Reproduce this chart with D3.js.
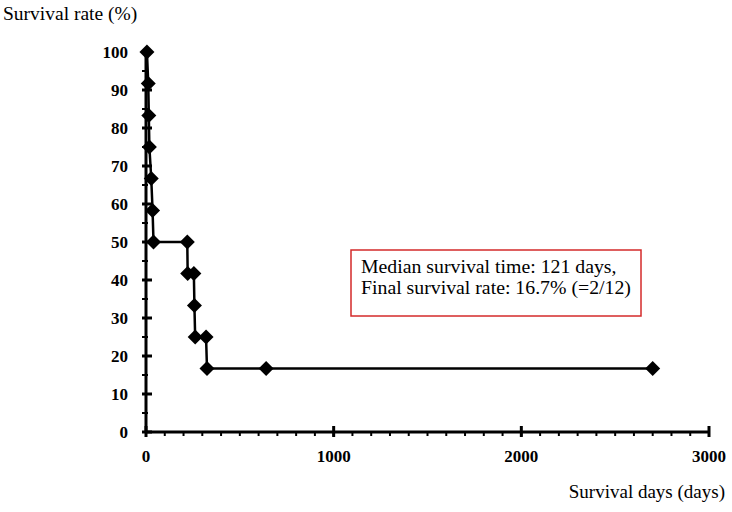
<!DOCTYPE html>
<html><head><meta charset="utf-8">
<script src="https://cdn.jsdelivr.net/npm/d3@7"></script>
<style>body{margin:0;background:#fff}svg{display:block}</style>
</head><body>
<svg id="c" width="732" height="512"></svg>
<script>
const days  = [5, 12, 15, 18, 28, 35, 40, 220, 222, 255, 258, 262, 320, 325, 640, 2700];
const rates = [100, 91.7, 83.3, 75, 66.7, 58.3, 50, 50, 41.7, 41.7, 33.3, 25, 25, 16.7, 16.7, 16.7];
const xTicks = [0, 1000, 2000, 3000];
const yTicks = [0, 10, 20, 30, 40, 50, 60, 70, 80, 90, 100];
const legendLines = ["Median survival time: 121 days,", "Final survival rate: 16.7% (=2/12)"];
const yTitle = "Survival rate (%)";
const xTitle = "Survival days (days)";

const svg = d3.select("#c");
const x = d3.scaleLinear().domain([0, 3000]).range([146, 709]);
const y = d3.scaleLinear().domain([0, 100]).range([432, 52]);
const font = "'Liberation Serif','Times New Roman',serif";

const g = svg.append("g");
g.selectAll("line.xm").data(d3.range(0, 3001, 100)).join("line")
  .attr("x1", d => x(d)).attr("x2", d => x(d)).attr("y1", y(0)).attr("y2", y(0) + 4)
  .attr("stroke", "#000").attr("stroke-width", 2);
g.selectAll("line.xM").data(xTicks).join("line")
  .attr("x1", d => x(d)).attr("x2", d => x(d)).attr("y1", y(0) - 6).attr("y2", y(0) + 5)
  .attr("stroke", "#000").attr("stroke-width", 3);
g.selectAll("line.ym").data(d3.range(5, 100, 10)).join("line")
  .attr("x1", x(0) - 4).attr("x2", x(0) + 2).attr("y1", d => y(d)).attr("y2", d => y(d))
  .attr("stroke", "#000").attr("stroke-width", 2);
g.selectAll("line.yM").data(yTicks).join("line")
  .attr("x1", x(0) - 4).attr("x2", x(0) + 6).attr("y1", d => y(d)).attr("y2", d => y(d))
  .attr("stroke", "#000").attr("stroke-width", 3);

g.append("line").attr("x1", x(0)).attr("x2", x(3000)).attr("y1", y(0)).attr("y2", y(0))
  .attr("stroke", "#000").attr("stroke-width", 3);
g.append("line").attr("x1", x(0)).attr("x2", x(0)).attr("y1", y(0)).attr("y2", y(100))
  .attr("stroke", "#000").attr("stroke-width", 3);

g.selectAll("text.xl").data(xTicks).join("text")
  .attr("x", d => x(d)).attr("y", y(0) + 30).attr("text-anchor", "middle")
  .attr("font-family", font).attr("font-weight", "bold").attr("font-size", 17).text(d => d);
g.selectAll("text.yl").data(yTicks).join("text")
  .attr("x", 128).attr("y", d => y(d) + 6).attr("text-anchor", "end")
  .attr("font-family", font).attr("font-weight", "bold").attr("font-size", 17).text(d => d);

svg.append("text").attr("x", 3).attr("y", 20).attr("font-family", font).attr("font-size", 19.5).text(yTitle);
svg.append("text").attr("x", 725).attr("y", 498).attr("text-anchor", "end").attr("font-family", font).attr("font-size", 19).text(xTitle);

const pts = days.map((d, i) => [d, rates[i]]);
svg.append("path").attr("d", d3.line().x(d => x(d[0])).y(d => y(d[1]))(pts))
  .attr("fill", "none").attr("stroke", "#000").attr("stroke-width", 2.5);
svg.selectAll("path.m").data(pts).join("path").attr("class", "m")
  .attr("transform", d => `translate(${x(d[0])},${y(d[1])})`)
  .attr("d", "M0,-7.5L7.5,0L0,7.5L-7.5,0Z").attr("fill", "#000");

const lg = svg.append("g");
lg.append("rect").attr("x", 351).attr("y", 250).attr("width", 290).attr("height", 66)
  .attr("fill", "#fff").attr("stroke", "#d42a2a").attr("stroke-width", 1.5);
lg.selectAll("text").data(legendLines).join("text")
  .attr("x", 361).attr("y", (d, i) => 273 + i * 21)
  .attr("font-family", font).attr("font-size", 19.8).text(d => d);
</script>
</body></html>
